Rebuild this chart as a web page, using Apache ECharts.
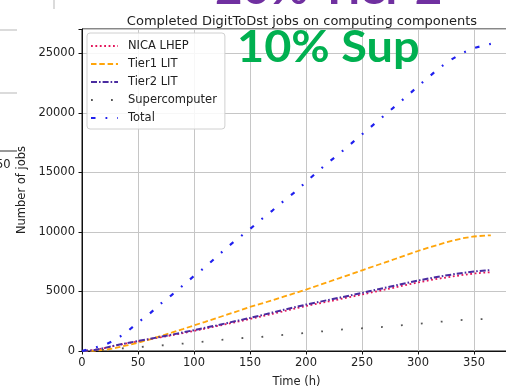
<!DOCTYPE html>
<html>
<head>
<meta charset="utf-8">
<script src="https://cdn.jsdelivr.net/npm/echarts@6/dist/echarts.min.js"></script>
<style>
  html, body { margin: 0; padding: 0; background: #fff; }
  #chart { width: 506px; height: 388px; }
</style>
</head>
<body>
<div id="chart"></div>
<script>
// Completed jobs per computing component over time (hours)
const hours = [0, 10, 20, 30, 40, 50, 60, 70, 80, 90, 100, 110, 120, 130, 140, 150, 160, 170, 180,
  190, 200, 210, 220, 230, 240, 250, 260, 270, 280, 290, 300, 310, 320, 330, 340, 350, 360, 365];

const nicaLhep = [0, 70, 240, 460, 640, 810, 980, 1150, 1320, 1500, 1690, 1880, 2080, 2280, 2480,
  2690, 2900, 3120, 3340, 3560, 3780, 3970, 4160, 4350, 4550, 4750, 4950, 5150, 5350, 5560, 5760,
  5940, 6100, 6250, 6390, 6510, 6590, 6620];

const tier1Lit = [0, 10, 90, 260, 470, 700, 960, 1250, 1540, 1840, 2150, 2450, 2760, 3070, 3380,
  3700, 3980, 4260, 4560, 4860, 5160, 5480, 5800, 6130, 6450, 6780, 7100, 7420, 7750, 8080, 8400,
  8700, 8980, 9250, 9470, 9620, 9700, 9720];

const tier2Lit = [0, 60, 250, 480, 660, 840, 1010, 1190, 1370, 1560, 1750, 1950, 2150, 2360, 2570,
  2780, 3000, 3230, 3460, 3680, 3900, 4090, 4290, 4480, 4680, 4880, 5090, 5300, 5510, 5720, 5920,
  6100, 6270, 6420, 6560, 6680, 6770, 6800];

const supercomputer = [0, 40, 100, 180, 250, 320, 390, 460, 540, 620, 710, 800, 900, 990, 1070,
  1130, 1180, 1270, 1350, 1430, 1520, 1610, 1700, 1790, 1860, 1910, 1970, 2030, 2120, 2200, 2280,
  2370, 2460, 2540, 2610, 2660, 2690, 2700];

const total = [0, 250, 500, 950, 1600, 2400, 3100, 3950, 4700, 5500, 6300, 7050, 7900, 8750, 9500,
  10250, 11050, 11800, 12600, 13350, 14200, 15050, 15850, 16600, 17400, 18200, 19000, 19800, 20600,
  21400, 22250, 23050, 23850, 24500, 25050, 25450, 25700, 25800];

const xTicks = [0, 50, 100, 150, 200, 250, 300, 350];
const yTicks = [0, 5000, 10000, 15000, 20000, 25000];

const FONT = 'DejaVu Sans';
const pairs = vals => hours.map((h, i) => [h, vals[i]]);

function lineSeries(name, vals, color, dash, width) {
  return {
    name: name,
    type: 'line',
    data: pairs(vals),
    symbol: 'none',
    smooth: false,
    animation: false,
    lineStyle: { color: color, width: width, type: dash, cap: 'butt' },
    itemStyle: { color: color },
    emphasis: { disabled: true }
  };
}

const chart = echarts.init(document.getElementById('chart'), null, { renderer: 'canvas' });

chart.setOption({
  backgroundColor: '#ffffff',
  animation: false,
  title: {
    text: 'Completed DigitToDst jobs on computing components',
    left: 297,
    top: 10,
    textAlign: 'center',
    textStyle: { fontFamily: FONT, fontSize: 13, fontWeight: 'normal', color: '#222' }
  },
  grid: {
    left: 82, top: 29, width: 429, height: 322,
    containLabel: false,
    outerBoundsMode: 'none',
    show: true, borderColor: '#111', borderWidth: 1, backgroundColor: 'transparent'
  },
  legend: {
    orient: 'vertical',
    left: 87, top: 33,
    itemWidth: 27, itemHeight: 14, itemGap: 6,
    padding: [7, 8, 5, 3],
    backgroundColor: 'rgba(255,255,255,0.85)',
    borderColor: '#d0d0d0', borderWidth: 1, borderRadius: 3,
    itemStyle: { opacity: 0 },
    textStyle: { fontFamily: FONT, fontSize: 11.5, color: '#222', padding: [0, 0, 0, 5] },
    selectedMode: false,
    data: ['NICA LHEP', 'Tier1 LIT', 'Tier2 LIT', 'Supercomputer', 'Total']
  },
  xAxis: {
    type: 'value',
    min: 0, max: 383, interval: 50,
    name: 'Time (h)', nameLocation: 'middle', nameGap: 25,
    nameTextStyle: { fontFamily: FONT, fontSize: 11.5, color: '#222' },
    axisLine: { show: true, lineStyle: { color: '#111', width: 1 } },
    axisTick: { show: true, length: 3.5, lineStyle: { color: '#111' } },
    axisLabel: {
      fontFamily: FONT, fontSize: 11.5, color: '#222', margin: 6,
      formatter: v => xTicks.includes(v) ? String(v) : ''
    },
    splitLine: { show: true, lineStyle: { color: '#c6c6c6', width: 1 } }
  },
  yAxis: {
    type: 'value',
    min: 0, max: 27050, interval: 5000,
    name: 'Number of jobs', nameLocation: 'middle', nameGap: 47,
    nameTextStyle: { fontFamily: FONT, fontSize: 11.5, color: '#222' },
    axisLine: { show: true, lineStyle: { color: '#111', width: 1 } },
    axisTick: { show: true, length: 3.5, lineStyle: { color: '#111' } },
    axisLabel: {
      fontFamily: FONT, fontSize: 11.5, color: '#222', margin: 7,
      formatter: v => yTicks.includes(v) ? String(v) : ''
    },
    splitLine: { show: true, lineStyle: { color: '#c6c6c6', width: 1 } }
  },
  series: [
    lineSeries('NICA LHEP', nicaLhep, '#e3155a', [1.8, 2.6], 1.8),
    lineSeries('Tier1 LIT', tier1Lit, '#ffa50a', [5.5, 2.8], 1.8),
    lineSeries('Tier2 LIT', tier2Lit, '#4a2ca0', [6, 2, 1.6, 2], 2),
    lineSeries('Supercomputer', supercomputer, '#555555', [1.8, 18.2], 1.8),
    lineSeries('Total', total, '#2020ee', [4.5, 10, 1.8, 10], 2.2)
  ],
  graphic: [
    // fragments of the neighbouring figure along the left edge
    { type: 'line', shape: { x1: 0, y1: 30, x2: 17, y2: 30 }, style: { stroke: '#cfcfcf', lineWidth: 1.5 }, z: 1 },
    { type: 'line', shape: { x1: 0, y1: 93, x2: 17, y2: 93 }, style: { stroke: '#cfcfcf', lineWidth: 1.5 }, z: 1 },
    { type: 'line', shape: { x1: 0, y1: 151, x2: 17, y2: 151 }, style: { stroke: '#333', lineWidth: 1 }, z: 1 },
    { type: 'line', shape: { x1: 54, y1: 0, x2: 54, y2: 9 }, style: { stroke: '#cfcfcf', lineWidth: 1.5 }, z: 1 },
    { type: 'text', x: -4, y: 165, style: { text: '50', font: '11.5px "DejaVu Sans"', fill: '#222', textVerticalAlign: 'middle' }, z: 1 },
    // slide captions laid over the chart
    { type: 'text', x: 215, y: -10, scaleX: 1.1, z: 100,
      style: { text: '20% Tier 2', x: 0, y: 0, font: 'bold 43px Lato', fill: '#7030a0', textVerticalAlign: 'middle' } },
    { type: 'text', x: 237, y: 48, scaleX: 1.09, z: 100,
      style: { text: '10% Sup', x: 0, y: 0, font: 'bold 43px Lato', fill: '#00b050', textVerticalAlign: 'middle' } }
  ]
});
</script>
</body>
</html>
